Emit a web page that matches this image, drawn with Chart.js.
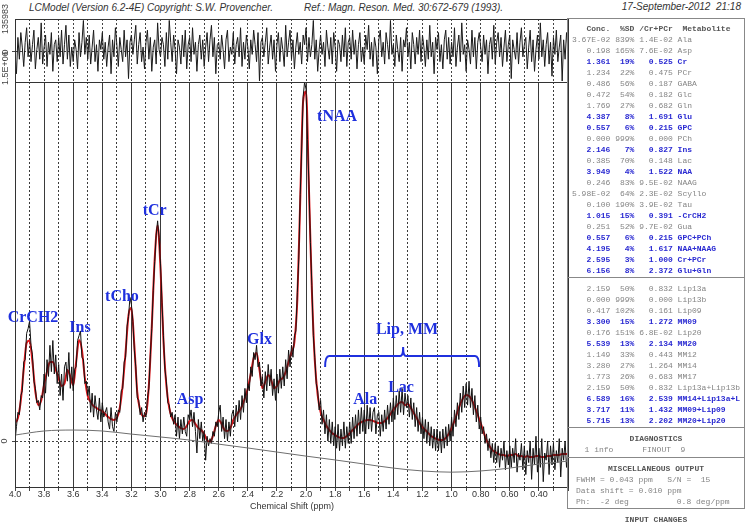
<!DOCTYPE html>
<html>
<head>
<meta charset="utf-8">
<script src="https://cdn.jsdelivr.net/npm/chart.js@4.4.1/dist/chart.umd.min.js"></script>
<style>
  html, body { margin: 0; padding: 0; background: #fff; }
  body { width: 746px; height: 524px; position: relative; overflow: hidden; font-family: "Liberation Sans", Arial, sans-serif; }
  .abs { position: absolute; }
  #resWrap { left: 0; top: 0; width: 575px; height: 90px; }
  #mainWrap { left: 0; top: 40px; width: 575px; height: 484px; }
  .head { font-style: italic; font-size: 10px; line-height: 12px; color: #333; white-space: nowrap; }
  #box { left: 567px; top: 18px; width: 178px; height: 491px; border: 1px solid #888; box-sizing: border-box; }
  .rule { height: 0; border-top: 1px solid #888; left: 567px; width: 178px; }
  .row { left: 572px; font-family: "Liberation Mono", "Courier New", monospace; font-size: 8px; line-height: 11px; white-space: pre; color: #858585; }
  .hi { color: #2a2ad2; font-weight: bold; }
  .ttl { left: 567px; width: 178px; text-align: center; font-family: "Liberation Mono", monospace; font-size: 8px; line-height: 11px; font-weight: bold; color: #555; }
  #xTitle { left: 200px; width: 184px; top: 500px; text-align: center; font-size: 9px; line-height: 12px; color: #333; }
</style>
</head>
<body>
<div class="abs head" style="left:29px;top:2px">LCModel (Version 6.2-4E) Copyright: S.W. Provencher.</div>
<div class="abs head" style="left:304px;top:2px">Ref.: Magn. Reson. Med. 30:672-679 (1993).</div>
<div class="abs head" style="right:5px;top:1px">17-September-2012&nbsp;&nbsp;21:18</div>

<div id="resWrap" class="abs"><canvas id="res"></canvas></div>
<div id="mainWrap" class="abs"><canvas id="main"></canvas></div>
<div id="xTitle" class="abs">Chemical Shift (ppm)</div>

<div id="box" class="abs"></div>
<div id="table"></div>

<script>
// spectrum values in units of 1E+04, sampled from 4.00 ppm downwards
const dataStep = 0.01;
const dataVals = [
  0, 6, 12, 11, 19, 21, 33, 34, 45, 47,
  50, 40, 36, 25, 22, 16, 17, 13, 19, 18,
  28, 20, 34, 27, 40, 29, 42, 28, 36, 24,
  32, 19, 28, 17, 31, 33, 25, 37, 22, 31,
  21, 30, 31, 42, 44, 46, 35, 34, 24, 25,
  19, 23, 12, 20, 10, 19, 13, 9, 18, 8,
  16, 10, 12, 14, 8, 5, 14, 6, 4, 12,
  8, 13, 12, 21, 22, 33, 35, 48, 52, 60,
  57, 50, 38, 31, 18, 17, 11, 14, 8, 12,
  10, 18, 22, 36, 47, 63, 75, 86, 92, 85,
  74, 58, 44, 30, 25, 16, 15, 10, 12, 7,
  11, 2, 10, 1, 9, 3, 10, 4, 2, 11,
  9, 13, 6, 12, 4, -5, 9, 1, 8, 0,
  4, -8, 2, -2, 1, -1, 4, 2, 8, 6,
  12, 15, 4, 10, 1, 9, 0, 8, 2, 11,
  13, 6, 15, 8, 17, 9, 19, 12, 22, 16,
  24, 21, 31, 27, 37, 34, 40, 31, 33, 23,
  27, 18, 29, 21, 32, 23, 30, 19, 26, 17,
  28, 20, 30, 22, 31, 23, 34, 26, 38, 31,
  40, 35, 44, 46, 62, 76, 103, 122, 144, 150,
  147, 126, 107, 83, 65, 44, 35, 24, 21, 13,
  17, 7, 13, 3, 11, 0, 9, -1, 8, -2,
  6, -3, 7, -4, 5, -2, 8, -3, 6, -1,
  8, -1, 10, 1, 11, 2, 13, 3, 14, 4,
  13, 3, 15, 5, 14, 4, 12, 14, 3, 11,
  12, 2, 11, 4, 13, 5, 15, 7, 16, 8,
  18, 9, 19, 11, 21, 12, 22, 11, 20, 14,
  19, 10, 18, 9, 16, 6, 14, 4, 12, 3,
  10, 1, 9, -1, 8, -2, 6, -3, 5, -4,
  5, -4, 4, -5, 5, -3, 6, -2, 7, 0,
  10, 2, 13, 6, 16, 9, 20, 12, 23, 14,
  24, 15, 25, 14, 22, 11, 19, 8, 15, 5,
  10, 3, 6, -1, 3, -4, 1, -7, -1, -9,
  -1, -9, -2, -11, -3, -8, 0, -12, -4, -10,
  -2, -11, -3, -9, 1, -13, -5, -8, -1, -12,
  -2, -14, -4, -9, 0, -16, -3, -10, 2, -13,
  -3, -11, 1, -17, -5, -8, 0, -14, -2, -10,
  -1, -12, -4, -9, 1, -15, -3, -8, 0, -11,
  -4
];

const fitStep = 0.02;
const fitVals = [
  7.5, 9.6, 17, 30, 41, 42, 33, 20.5, 15, 17,
  23.4, 29, 33, 33, 29.7, 26.3, 23, 24, 29.7, 27,
  23.4, 33, 42.2, 38, 26.3, 18.8, 16.3, 14.6, 13.8, 13,
  12.5, 11.3, 10, 9.2, 8.8, 9.6, 13.8, 23.4, 37.2, 52.6,
  55.6, 40, 20.5, 13, 10.4, 11.3, 23.4, 48, 76, 90,
  72, 42, 23.4, 13.8, 9.6, 7.5, 6.3, 5.4, 5, 6.3,
  8.4, 8.8, 7.1, 5.4, 4.6, 2.9, 0.4, -0.4, 2.1, 6.3,
  8.8, 7.1, 4.6, 4.2, 5.4, 8.8, 10.9, 12.5, 14.6, 18,
  22.1, 28, 34.7, 36.8, 29.7, 22.1, 24.7, 27.6, 25.5, 22.1,
  23, 25.5, 26.3, 28.8, 33, 37.2, 41.4, 59, 100.7, 142,
  146, 105, 63, 33.8, 19.2, 12.1, 8.8, 6.3, 4.6, 3.3,
  2.5, 1.7, 1.3, 1.3, 2.1, 3.3, 4.6, 5.8, 7.1, 7.9,
  8.4, 8.8, 8.8, 8.4, 7.9, 7.5, 7.5, 8.4, 9.6, 11.3,
  13, 14.6, 15.9, 16.3, 15, 15.5, 13.8, 11.7, 9.6, 7.5,
  5.8, 4.6, 3.3, 2.1, 1.3, 0.8, 0.4, 0.4, 1.3, 2.9,
  5.4, 8.4, 12.1, 15.5, 18, 19.2, 18.8, 17.1, 14.2, 10.9,
  7.5, 3.8, 0.4, -2.1, -3.8, -4.6, -5.4, -5.8, -5.8, -6.3,
  -5.8, -5.8, -5.4, -6.3, -6.3, -6.7, -6.3, -6.7, -6.7, -6.3,
  -6.3, -6.7, -6.7, -6.3, -6.3, -5.8, -5.8, -5.8, -5.4, -5.4,
  -5.4
];

const baseStep = 0.2;
const baseVals = [2.5, 4.2, 4.6, 4.2, 2.9, 1.7, 0.4, -1.3, -2.9, -4.6,
  -6.3, -7.9, -9.6, -11.3, -12.5, -13, -12.5, -11.3, -9.6, -8.4];

// residual, units of 1E+04
const residVals = [
  0, -9, 6, -3, 8, 2, -6, 4, 10, -2,
  5, -4, 3, 9, -7, 1, 6, -3, 12, -5,
  2, 7, -6, 4, -1, 8, -8, 3, 5, -4,
  6, -2, 9, -5, 3, 11, -3, 7, -6, 2,
  -4, 5, 1, -7, 8, -2, 4, 13, -1, 6,
  -3, 7, -5, 2, 9, -4, 3, -8, 5, 1,
  8, -3, 4, -6, 2, 7, -9, 5, -2, 10,
  3, -6, 6, 1, -4, 9, -2, 5, -11, 4,
  7, -1, 5, 11, -5, 3, 8, -4, 2, -7,
  4, 9, -3, 6, -8, 2, 5, -5, 12, 1,
  -2, 6, 3, -6, 8, -3, 13, 4, -4, 7,
  1, -9, 5, 2, -5, 7, -2, 9, -7, 3,
  6, -4, 10, -1, 4, -8, 3, 7, -3, 5,
  -6, 2, 8, -4, 5, 11, -2, 6, -9, 3,
  4, -3, 7, 1, -7, 5, 9, -4, 2, -1,
  8, -5, 3, 6, -2, 10, -6, 4, -3, 7,
  2, -7, 5, -1, 9, 3, -4, 8, -12, 4,
  6, -2, 4, 10, -5, 2, 7, -3, 5, -8,
  3, 8, -4, 6, 1, -6, 11, -2, 4, 9,
  -3, 5, -7, 2, 8, -1, 4, -5, 7, 3,
  10, -4, 6, -2, 3, 13, -3, 5, -8, 1,
  7, -1, 4, -6, 9, 2, -3, 6, -5, 8,
  2, -8, 5, 3, -4, 7, -2, 10, -6, 4,
  6, -3, 9, -1, 5, -7, 3, 8, -4, 2,
  -5, 7, 1, 11, -3, 4, -6, 6, 2, -9,
  5, 9, -2, 4, -5, 8, 3, -3, 13, -1,
  3, -6, 7, 1, -4, 6, -8, 5, 2, 10,
  -2, 4, -7, 8, 3, -5, 6, -1, 9, -4,
  7, 2, -6, 5, -3, 11, -2, 4, -9, 6,
  1, 8, -4, 3, -7, 5, 9, -3, 6, -5,
  4, -2, 10, -6, 2, 7, -4, 12, -1, 3,
  -8, 5, 1, -5, 9, -2, 6, -7, 4, 8,
  2, -4, 7, -1, 5, -9, 3, 6, -3, 11,
  -5, 4, 8, -2, 6, -6, 2, 9, -4, 3,
  7, -11, 5, 1, -3, 8, -5, 4, 10, -2,
  3, 6, -7, 2, 9, -4, 5, -8, 1, 7,
  -3, 12, -2, 5, -6, 3, 8, -5, 4, -10,
  6, -1, 9, -4, 2, 7, -12, 5, -3, 8,
  1
];

const peakNames = ["CrCH2", "Ins", "tCho", "tCr", "Asp", "Glx", "tNAA", "Lip, MM", "Ala", "Lac"];
const peakPpm = [3.876, 3.553, 3.265, 3.04, 2.797, 2.32, 1.787, 1.306, 1.594, 1.347];
const peakHeight = [51.4, 47.2, 60.2, 96.1, 17.1, 42.2, 135.4, 46.4, 17.1, 22.1];
const lipBrace = { from: 1.869, to: 0.811, mid: 1.333, level: 35.5, hook: 30.9, tip: 39.3 };

const metNames = ["Ala", "Asp", "Cr", "PCr", "GABA", "Glc", "Gln", "Glu", "GPC", "PCh", "Ins", "Lac", "NAA", "NAAG", "Scyllo", "Tau", "-CrCH2", "Gua", "GPC+PCh", "NAA+NAAG", "Cr+PCr", "Glu+Gln"];
const metConc = ["3.67E-02", "0.198", "1.361", "1.234", "0.486", "0.472", "1.769", "4.387", "0.557", "0.000", "2.146", "0.385", "3.949", "0.246", "5.98E-02", "0.100", "1.015", "0.251", "0.557", "4.195", "2.595", "6.156"];
const metSD = ["839%", "165%", "19%", "22%", "56%", "54%", "27%", "8%", "6%", "999%", "7%", "70%", "4%", "83%", "64%", "190%", "15%", "52%", "6%", "4%", "3%", "8%"];
const metRatio = ["1.4E-02", "7.6E-02", "0.525", "0.475", "0.187", "0.182", "0.682", "1.691", "0.215", "0.000", "0.827", "0.148", "1.522", "9.5E-02", "2.3E-02", "3.9E-02", "0.391", "9.7E-02", "0.215", "1.617", "1.000", "2.372"];
const metBlue = [0, 0, 1, 0, 0, 0, 0, 1, 1, 0, 1, 0, 1, 0, 0, 0, 1, 0, 1, 1, 1, 1];

const lipNames = ["Lip13a", "Lip13b", "Lip09", "MM09", "Lip20", "MM20", "MM12", "MM14", "MM17", "Lip13a+Lip13b", "MM14+Lip13a+L", "MM09+Lip09", "MM20+Lip20"];
const lipConc = ["2.159", "0.000", "0.417", "3.300", "0.176", "5.539", "1.149", "3.280", "1.773", "2.159", "6.589", "3.717", "5.715"];
const lipSD = ["50%", "999%", "102%", "15%", "151%", "13%", "33%", "27%", "26%", "50%", "16%", "11%", "13%"];
const lipRatio = ["0.832", "0.000", "0.161", "1.272", "6.8E-02", "2.134", "0.443", "1.264", "0.683", "0.832", "2.539", "1.432", "2.202"];
const lipBlue = [0, 0, 0, 1, 0, 1, 0, 0, 0, 0, 1, 1, 1];

const BLUE = "#1f30de";

// ---- right hand table ----
const tbl = document.getElementById("table");
function addDiv(cls, text, top, extra) {
    const d = document.createElement("div");
    d.className = "abs " + cls;
    d.textContent = text;
    d.style.top = (top - 5.5) + "px";
    if (extra) Object.assign(d.style, extra);
    tbl.appendChild(d);
}
function addRule(top) {
    const d = document.createElement("div");
    d.className = "abs rule";
    d.style.top = top + "px";
    tbl.appendChild(d);
}
const pad = (s, n) => s.padStart(n, " ");
const fmt = (c, sd, r, n) => `${pad(c, 8)} ${pad(sd, 4)} ${pad(r, 7)} ${n}`;

addDiv("row", "   Conc.  %SD /Cr+PCr  Metabolite", 28, { color: "#555", fontWeight: "bold" });
metNames.forEach((n, i) =>
    addDiv("row" + (metBlue[i] ? " hi" : ""), fmt(metConc[i], metSD[i], metRatio[i], n), 39 + 11 * i));
addRule(277);
lipNames.forEach((n, i) =>
    addDiv("row" + (lipBlue[i] ? " hi" : ""), fmt(lipConc[i], lipSD[i], lipRatio[i], n), 288 + 11 * i));
addRule(427);
addDiv("ttl", "DIAGNOSTICS", 438);
addDiv("row", "  1 info      FINOUT  9", 449, { left: "575px" });
addRule(457);
addDiv("ttl", "MISCELLANEOUS OUTPUT", 468);
addDiv("row", "FWHM = 0.043 ppm   S/N =  15", 479, { left: "576px" });
addDiv("row", "Data shift = 0.010 ppm", 490, { left: "576px" });
addDiv("row", "Ph:  -2 deg          0.8 deg/ppm", 501, { left: "576px" });
addDiv("ttl", "INPUT CHANGES", 519);

// ---- charts ----
const ppmTicks = [];
for (let k = 40; k >= 2; k--) ppmTicks.push(k / 10);

const isMajor = v => Math.round(v * 10) % 2 === 0;
function tickLabel(v) {
    if (!isMajor(v) || v < 0.3) return "";
    return v >= 1 ? v.toFixed(1) : v.toFixed(2);
}
function toPoints(vals, step) {
    return vals.map((y, i) => ({ x: +(4.0 - i * step).toFixed(2), y }));
}

const framePlugin = {
    id: "frame",
    afterDraw(chart) {
        const { ctx, chartArea: a } = chart;
        ctx.save();
        ctx.strokeStyle = "#333";
        ctx.lineWidth = 1;
        ctx.strokeRect(Math.round(a.left) + 0.5, Math.round(a.top) + 0.5,
            Math.round(a.right - a.left), Math.round(a.bottom - a.top));
        ctx.restore();
    }
};

const sideLabels = {
    id: "sideLabels",
    afterDraw(chart, args, opts) {
        const { ctx, scales: { y } } = chart;
        ctx.save();
        ctx.fillStyle = "#444";
        ctx.font = "9px 'Liberation Sans', Arial";
        ctx.textBaseline = "middle";
        opts.items.forEach(it => {
            ctx.save();
            ctx.translate(it.x, y.getPixelForValue(it.value) + it.shift);
            ctx.rotate(-Math.PI / 2);
            ctx.textAlign = it.align;
            ctx.fillText(it.text, 0, 0);
            ctx.restore();
        });
        ctx.restore();
    }
};

const peakTags = {
    id: "peakTags",
    afterDatasetsDraw(chart) {
        const { ctx, scales: { x, y } } = chart;
        ctx.save();
        ctx.fillStyle = BLUE;
        ctx.font = "bold 16px 'Liberation Serif', 'Times New Roman', serif";
        ctx.textAlign = "center";
        ctx.textBaseline = "middle";
        peakNames.forEach((n, i) =>
            ctx.fillText(n, x.getPixelForValue(peakPpm[i]), y.getPixelForValue(peakHeight[i])));

        const xl = x.getPixelForValue(lipBrace.from), xr = x.getPixelForValue(lipBrace.to);
        const xm = x.getPixelForValue(lipBrace.mid);
        const yl = y.getPixelForValue(lipBrace.level), yh = y.getPixelForValue(lipBrace.hook);
        const yt = y.getPixelForValue(lipBrace.tip);
        ctx.strokeStyle = BLUE;
        ctx.lineWidth = 2;
        ctx.beginPath();
        ctx.moveTo(xl, yh);
        ctx.quadraticCurveTo(xl, yl, xl + 4, yl);
        ctx.lineTo(xm - 3, yl);
        ctx.quadraticCurveTo(xm, yl, xm, yt);
        ctx.quadraticCurveTo(xm, yl, xm + 3, yl);
        ctx.lineTo(xr - 4, yl);
        ctx.quadraticCurveTo(xr, yl, xr, yh);
        ctx.stroke();
        ctx.restore();
    }
};

const xAxisBase = {
    type: "linear",
    reverse: true,
    min: 0.2,
    max: 4.0,
    afterBuildTicks: s => { s.ticks = ppmTicks.map(v => ({ value: v })); }
};

new Chart(document.getElementById("res"), {
    type: "line",
    data: {
        datasets: [{
            data: toPoints(residVals, dataStep),
            borderColor: "#1a1a1a", borderWidth: 1, pointRadius: 0, tension: 0
        }]
    },
    options: {
        responsive: true, maintainAspectRatio: false, animation: false, events: [],
        layout: { padding: { top: 19, right: 7, left: 0, bottom: 8 } },
        plugins: {
            legend: { display: false }, tooltip: { enabled: false },
            sideLabels: {
                items: [
                    { text: "135983", value: 13.6, shift: 0, align: "center", x: 6 },
                    { text: "0", value: 0, shift: 0, align: "center", x: 6 }
                ]
            }
        },
        scales: {
            x: Object.assign({}, xAxisBase, {
                afterFit: s => { s.height = 0; },
                ticks: { display: false },
                grid: { color: "#444", lineWidth: 1, drawTicks: false },
                border: { color: "#333", dash: c => (c.tick && c.tick.value > 0.21 && c.tick.value < 3.99) ? [2, 2] : [] }
            }),
            y: {
                min: -12.4, max: 13.6,
                afterBuildTicks: s => { s.ticks = [{ value: 0 }]; },
                afterFit: s => { s.width = 15; },
                ticks: { display: false },
                grid: { color: "#444", tickLength: 3 },
                border: { color: "#333", dash: [2, 2] }
            }
        }
    },
    plugins: [framePlugin, sideLabels]
});

new Chart(document.getElementById("main"), {
    type: "line",
    data: {
        datasets: [
            { data: toPoints(baseVals, baseStep), borderColor: "#6f6f6f", borderWidth: 1, pointRadius: 0, cubicInterpolationMode: "monotone" },
            { data: toPoints(dataVals, dataStep), borderColor: "#111", borderWidth: 1, pointRadius: 0, tension: 0 },
            { data: toPoints(fitVals, fitStep), borderColor: "#e0161b", borderWidth: 2, pointRadius: 0, cubicInterpolationMode: "monotone" }
        ]
    },
    options: {
        responsive: true, maintainAspectRatio: false, animation: false, events: [],
        layout: { padding: { top: 42, right: 7, left: 0, bottom: 0 } },
        plugins: {
            legend: { display: false }, tooltip: { enabled: false },
            sideLabels: {
                items: [
                    { text: "1.5E+06", value: 150, shift: 3, align: "left", x: 6 },
                    { text: "0", value: 0, shift: 0, align: "center", x: 5 }
                ]
            }
        },
        scales: {
            x: Object.assign({}, xAxisBase, {
                afterFit: s => { s.height = 37; },
                ticks: {
                    autoSkip: false, maxRotation: 0, minRotation: 0, padding: -2,
                    color: "#333", font: { family: "'Liberation Sans', Arial", size: 9 },
                    callback: v => tickLabel(v)
                },
                grid: { color: "#3a3a3a", lineWidth: 1, tickLength: 4, tickColor: "#444" },
                border: { color: "#333", dash: c => (c.tick && !isMajor(c.tick.value)) ? [2, 2] : [] }
            }),
            y: {
                min: -19.2, max: 150,
                afterBuildTicks: s => { s.ticks = [{ value: 0 }]; },
                afterFit: s => { s.width = 15; },
                ticks: { display: false },
                grid: { color: "#444", tickLength: 3 },
                border: { color: "#333", dash: [2, 2] }
            }
        }
    },
    plugins: [framePlugin, peakTags, sideLabels]
});
</script>
</body>
</html>
